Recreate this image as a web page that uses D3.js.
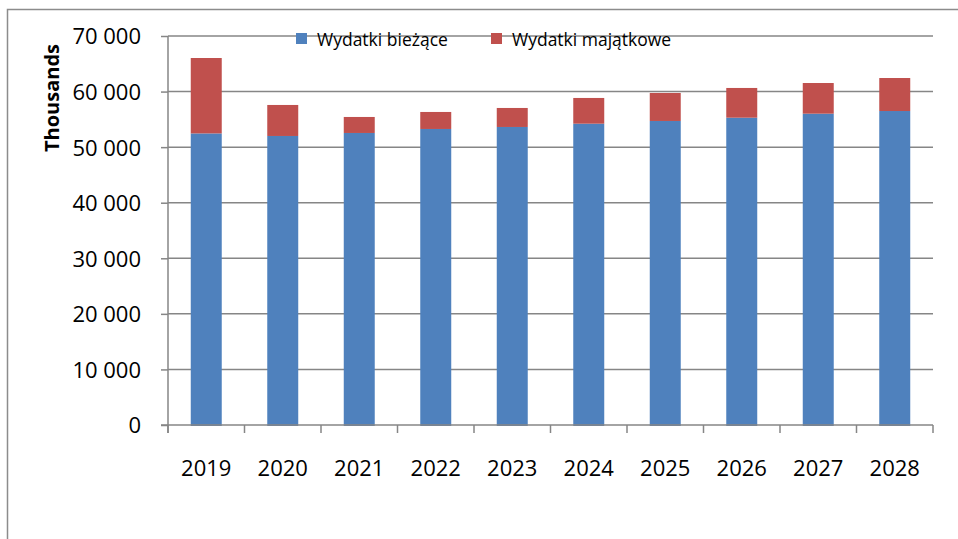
<!DOCTYPE html>
<html>
<head>
<meta charset="utf-8">
<script src="https://cdn.jsdelivr.net/npm/d3@7"></script>
<style>
  body { margin: 0; background: #fff; }
  text { font-family: "Open Sans", "Noto Sans", sans-serif; fill: #000; }
</style>
</head>
<body>
<svg id="chart" width="958" height="539"></svg>
<script>
var years = ["2019", "2020", "2021", "2022", "2023", "2024", "2025", "2026", "2027", "2028"];
var biezace = [52470, 52010, 52550, 53270, 53630, 54220, 54710, 55300, 56020, 56500];
var majatkowe = [13570, 5580, 2880, 3060, 3420, 4630, 5040, 5350, 5520, 5940];
var seriesNames = ["Wydatki bieżące", "Wydatki majątkowe"];
var seriesColors = ["#4f81bd", "#c0504d"];
var yTicks = [0, 10000, 20000, 30000, 40000, 50000, 60000, 70000];

var svg = d3.select("#chart");

// outer chart-area border (runs off the right and bottom of the picture)
svg.append("rect")
    .attr("x", 7.5).attr("y", 9.5)
    .attr("width", 1000).attr("height", 600)
    .attr("fill", "none")
    .attr("stroke", "#8c8c8c")
    .attr("stroke-width", 1.5);

var plotLeft = 168, plotRight = 933, plotTop = 36, plotBottom = 425;

var x = d3.scaleBand().domain(years).range([plotLeft, plotRight]).paddingInner(0.595).paddingOuter(0.2975);
var y = d3.scaleLinear().domain([0, 70000]).range([plotBottom, plotTop]);

var fmt = function (d) { return d3.format(",")(d).replace(/,/g, " "); };

// y axis ticks + labels
var yAxis = svg.append("g")
    .attr("transform", "translate(" + plotLeft + ",0)")
    .call(d3.axisLeft(y).tickValues(yTicks).tickFormat(fmt).tickSize(7).tickPadding(20));
yAxis.select(".domain").remove();
yAxis.selectAll(".tick line").attr("stroke", "#868686").attr("stroke-width", 1.5);
yAxis.selectAll(".tick text")
    .attr("font-size", "22px")
    .attr("dy", "0.36em")
    .style("font-family", "'Open Sans', sans-serif")
    .attr("fill", "#000");

// gridlines
svg.append("g").selectAll("line")
    .data(yTicks.slice(1))
    .enter().append("line")
    .attr("x1", plotLeft).attr("x2", plotRight)
    .attr("y1", function (d) { return y(d); })
    .attr("y2", function (d) { return y(d); })
    .attr("stroke", "#868686")
    .attr("stroke-width", 1.5);

// legend (drawn over gridline, no background)
var legend = svg.append("g");
var legendX = [296, 491];
seriesNames.forEach(function (name, i) {
    legend.append("rect")
        .attr("x", legendX[i]).attr("y", 33)
        .attr("width", 11).attr("height", 11)
        .attr("fill", seriesColors[i]);
    legend.append("text")
        .attr("x", legendX[i] + 21).attr("y", 46)
        .attr("font-size", "17.5px")
        .text(name);
});

// stacked bars
var rows = years.map(function (yr, i) { return {year: yr, b: biezace[i], m: majatkowe[i]}; });
var stack = d3.stack().keys(["b", "m"])(rows);

svg.append("g").selectAll("g")
    .data(stack)
    .enter().append("g")
    .attr("fill", function (d, i) { return seriesColors[i]; })
    .selectAll("rect")
    .data(function (d) { return d; })
    .enter().append("rect")
    .attr("x", function (d) { return x(d.data.year); })
    .attr("width", x.bandwidth())
    .attr("y", function (d) { return y(d[1]); })
    .attr("height", function (d) { return y(d[0]) - y(d[1]) + (d[0] === 0 ? 1 : 0); });

// axis lines
svg.append("line")
    .attr("x1", plotLeft).attr("x2", plotLeft)
    .attr("y1", plotTop).attr("y2", plotBottom + 8)
    .attr("stroke", "#868686").attr("stroke-width", 1.5);

var xAxis = svg.append("g")
    .attr("transform", "translate(0," + plotBottom + ")");
xAxis.append("line")
    .attr("x1", plotLeft - 7).attr("x2", plotRight)
    .attr("stroke", "#868686").attr("stroke-width", 1.5);
var bounds = years.map(function (d) { return x(d) - x.step() * x.paddingInner() / 2; }).concat([plotRight]);
xAxis.selectAll("line.tk")
    .data(bounds)
    .enter().append("line")
    .attr("class", "tk")
    .attr("x1", function (d) { return d; }).attr("x2", function (d) { return d; })
    .attr("y1", 0).attr("y2", 8)
    .attr("stroke", "#868686").attr("stroke-width", 1.5);
xAxis.selectAll("text")
    .data(years)
    .enter().append("text")
    .attr("x", function (d) { return x(d) + x.bandwidth() / 2; })
    .attr("y", 51)
    .attr("text-anchor", "middle")
    .attr("font-size", "22px")
    .text(function (d) { return d; });

// y axis title
svg.append("text")
    .attr("transform", "translate(59,98) rotate(-90)")
    .attr("text-anchor", "middle")
    .attr("font-size", "20px")
    .attr("font-weight", "bold")
    .text("Thousands");
</script>
</body>
</html>
